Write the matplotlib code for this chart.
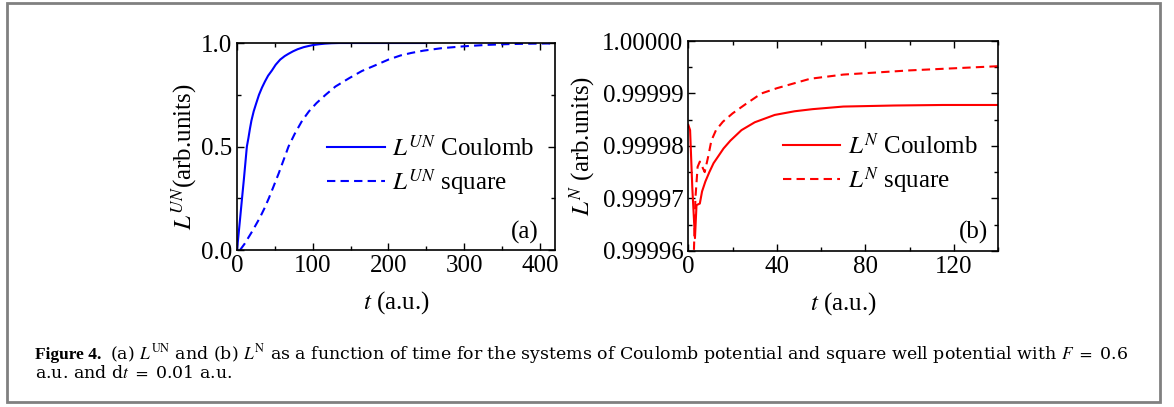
import matplotlib
matplotlib.use("Agg")
import matplotlib.pyplot as plt
from matplotlib.patches import Rectangle
from matplotlib.ticker import MultipleLocator, FixedLocator

plt.rcParams["font.family"] = ["Liberation Serif", "DejaVu Serif"]
plt.rcParams["mathtext.fontset"] = "stix"

# (a) L^UN vs t
t_coul_a = [0, 2, 4, 6.6, 9, 11, 13, 15, 17, 19, 22, 25, 29, 33, 37, 41, 46, 51, 57, 63,
            68, 74, 80, 88, 95, 100, 108, 116, 125, 135, 150, 200, 250]
L_coul_a = [0, 0.075, 0.15, 0.25, 0.34, 0.42, 0.5, 0.54, 0.585, 0.625, 0.67, 0.705, 0.75,
            0.785, 0.815, 0.842, 0.867, 0.895, 0.92, 0.937, 0.948, 0.96, 0.97, 0.98,
            0.986, 0.99, 0.994, 0.997, 0.999, 1.0, 1.0, 1.0, 1.0]
t_sq_a = [4, 10, 20, 30, 36, 42, 48, 55, 61, 68, 76, 86, 95, 105, 117, 130, 148, 165, 183,
          200, 216, 230, 246, 270, 299, 330, 360, 390, 420]
L_sq_a = [0, 0.03, 0.09, 0.155, 0.2, 0.25, 0.305, 0.37, 0.43, 0.5, 0.56, 0.625, 0.67, 0.71,
          0.75, 0.79, 0.83, 0.865, 0.893, 0.92, 0.94, 0.952, 0.963, 0.975, 0.984, 0.991,
          0.995, 0.997, 0.998]

# (b) L^N vs t
t_coul_b = [0, 0.8, 1.8, 3.0, 3.7, 5.2, 6.2, 7.7, 9.5, 11.4, 13.5, 15.9, 19, 24, 30, 39,
            48, 56, 70, 93, 115, 140]
L_coul_b = [0.999984, 0.999983, 0.999972, 0.9999624, 0.9999687, 0.999969, 0.9999713,
            0.9999732, 0.999975, 0.9999767, 0.999978, 0.9999795, 0.999981, 0.999983,
            0.9999845, 0.9999859, 0.9999866, 0.999987, 0.9999875, 0.9999877, 0.9999878,
            0.9999878]
t_sq_b = [2.2, 3.2, 4.2, 5.2, 6.3, 7.4, 9, 10.4, 12.5, 15.6, 20, 26, 33, 40, 55, 70, 100,
          120, 140]
L_sq_b = [0.999955, 0.99997, 0.999976, 0.999977, 0.999976, 0.999975, 0.999978, 0.999981,
          0.999983, 0.9999846, 0.9999862, 0.999988, 0.99999, 0.999991, 0.9999928,
          0.9999936, 0.9999944, 0.9999948, 0.9999952]

yticks_b = [0.99996, 0.99997, 0.99998, 0.99999, 1.00000]

fs = 18
dash = (0, (4, 2.5))

fig = plt.figure(figsize=(11.74, 4.07), dpi=100)
ax1 = fig.add_axes([0.2019, 0.3857, 0.2709, 0.5086])
ax2 = fig.add_axes([0.5863, 0.384, 0.2641, 0.5152])

ax1.plot(t_coul_a, L_coul_a, color="#0000ff", lw=1.5, label=r"$L^{UN}$ Coulomb")
ax1.plot(t_sq_a, L_sq_a, color="#0000ff", lw=1.5, ls=dash, label=r"$L^{UN}$ square")
ax1.set_xlim(0, 420)
ax1.set_ylim(0, 1.0)
ax1.xaxis.set_major_locator(MultipleLocator(100))
ax1.xaxis.set_minor_locator(MultipleLocator(50))
ax1.yaxis.set_major_locator(MultipleLocator(0.5))
ax1.yaxis.set_minor_locator(MultipleLocator(0.25))
ax1.set_xlabel(r"$t$ (a.u.)", fontsize=fs)
ax1.set_ylabel(r"$L^{UN}$(arb.units)", fontsize=fs)
ax1.xaxis.set_label_coords(0.5, -0.19)
ax1.yaxis.set_label_coords(-0.115, 0.45)
ax1.text(0.906, 0.087, "(a)", transform=ax1.transAxes, fontsize=fs, ha="center", va="center")
ax1.legend(loc="center left", bbox_to_anchor=(0.283, 0.403), frameon=False, fontsize=fs,
           borderpad=0, borderaxespad=0, handlelength=2.3, handletextpad=0.3,
           labelspacing=0.25)

ax2.plot(t_coul_b, L_coul_b, color="#ff0000", lw=1.5, label=r"$L^{N}$ Coulomb")
ax2.plot(t_sq_b, L_sq_b, color="#ff0000", lw=1.5, ls=dash, label=r"$L^{N}$ square")
ax2.set_xlim(0, 140)
ax2.set_ylim(yticks_b[0], yticks_b[-1])
ax2.xaxis.set_major_locator(MultipleLocator(40))
ax2.xaxis.set_minor_locator(MultipleLocator(20))
ax2.yaxis.set_major_locator(FixedLocator(yticks_b))
ax2.yaxis.set_minor_locator(FixedLocator([v + 0.000005 for v in yticks_b[:-1]]))
ax2.set_yticklabels(["%.5f" % v for v in yticks_b])
ax2.set_xlabel(r"$t$ (a.u.)", fontsize=fs)
ax2.set_ylabel(r"$L^{N}$ (arb.units)", fontsize=fs)
ax2.xaxis.set_label_coords(0.5, -0.187)
ax2.yaxis.set_label_coords(-0.29, 0.5)
ax2.text(0.919, 0.089, "(b)", transform=ax2.transAxes, fontsize=fs, ha="center", va="center")
ax2.legend(loc="center left", bbox_to_anchor=(0.305, 0.411), frameon=False, fontsize=fs,
           borderpad=0, borderaxespad=0, handlelength=2.3, handletextpad=0.3,
           labelspacing=0.25)

for ax in (ax1, ax2):
    ax.tick_params(which="both", direction="in", top=True, right=True, labelsize=fs, width=1)
    ax.tick_params(which="major", length=5)
    ax.tick_params(which="minor", length=3)
    for s in ax.spines.values():
        s.set_linewidth(1.2)

# caption and frame
cap = dict(fontsize=12.5, va="baseline", family="DejaVu Serif")
fig.text(35 / 1174, 1 - 359 / 407, "Figure 4.", fontsize=12.5, fontweight="bold", va="baseline")
fig.text(110 / 1174, 1 - 359 / 407,
         r"(a) $L^{\mathrm{UN}}$ and (b) $L^{\mathrm{N}}$ as a function of time for the systems "
         r"of Coulomb potential and square well potential with $F$ $=$ 0.6", **cap)
fig.text(35 / 1174, 1 - 378 / 407, r"a.u. and d$t$ $=$ 0.01 a.u.", **cap)
fig.patches.append(Rectangle((7 / 1174, 1 - 402 / 407), (1160 - 7) / 1174, (402 - 3) / 407,
                             transform=fig.transFigure, fill=False, edgecolor="#808080",
                             lw=2))

fig.savefig("out.png", dpi=100)
